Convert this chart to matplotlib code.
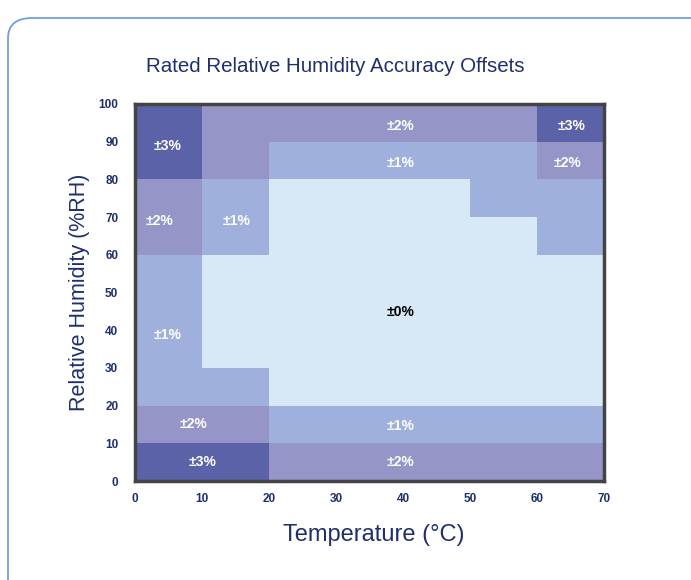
import numpy as np
import matplotlib
matplotlib.use("Agg")
import matplotlib.pyplot as plt
from matplotlib.colors import ListedColormap, BoundaryNorm
from matplotlib.patches import FancyBboxPatch

plt.rcParams['font.family'] = ['Liberation Sans', 'DejaVu Sans']

# data: accuracy offset (±%RH) per 10°C x 10%RH cell, rows from RH 0-10 upwards
temp_edges = [0, 10, 20, 30, 40, 50, 60, 70]
rh_edges = [0, 10, 20, 30, 40, 50, 60, 70, 80, 90, 100]
offsets = np.array([
    [3, 3, 2, 2, 2, 2, 2],   # 0-10
    [2, 2, 1, 1, 1, 1, 1],   # 10-20
    [1, 1, 0, 0, 0, 0, 0],   # 20-30
    [1, 0, 0, 0, 0, 0, 0],   # 30-40
    [1, 0, 0, 0, 0, 0, 0],   # 40-50
    [1, 0, 0, 0, 0, 0, 0],   # 50-60
    [2, 1, 0, 0, 0, 0, 1],   # 60-70
    [2, 1, 0, 0, 0, 1, 1],   # 70-80
    [3, 2, 1, 1, 1, 1, 2],   # 80-90
    [3, 2, 2, 2, 2, 2, 3],   # 90-100
])

# region labels (text, temperature, RH)
label_text = ['±3%', '±2%', '±3%', '±1%', '±2%', '±2%', '±1%',
              '±0%', '±1%', '±2%', '±1%', '±3%', '±2%']
label_t = [4.8, 39.6, 65.2, 39.6, 64.5, 3.7, 15.2, 39.6, 4.8, 8.8, 39.6, 10.1, 39.6]
label_rh = [88.9, 94.2, 94.2, 84.4, 84.4, 69, 69, 44.8, 38.7, 15.1, 14.6, 5, 5]

colors = ['#d7e8f6', '#9eb0db', '#9595c8', '#5b62a8']
navy = '#1f2f6e'

fig = plt.figure(figsize=(6.91, 5.80), dpi=100)
fig.patch.set_facecolor('white')
frame = FancyBboxPatch((8 / 691, -0.2), 1.2, (580 - 18) / 580 + 0.2,
                       boxstyle='round,pad=0,rounding_size=0.035',
                       transform=fig.transFigure, facecolor='white',
                       edgecolor='#6f9fe0', linewidth=1.3, zorder=-1)
fig.patches.append(frame)

ax = fig.add_axes([135 / 691, 1 - 481 / 580, 469 / 691, 377 / 580])
cmap = ListedColormap(colors)
norm = BoundaryNorm([-0.5, 0.5, 1.5, 2.5, 3.5], cmap.N)
ax.pcolormesh(temp_edges, rh_edges, offsets, cmap=cmap, norm=norm)

for txt, t, rh in zip(label_text, label_t, label_rh):
    c = 'black' if txt == '±0%' else 'white'
    ax.text(t, rh, txt, color=c, fontsize=10, fontweight='bold',
            ha='center', va='center')

ax.set_xlim(0, 70)
ax.set_ylim(0, 100)
ax.set_xticks(temp_edges)
ax.set_yticks(rh_edges)
ax.tick_params(axis='y', length=0, labelsize=8.5, labelcolor=navy, pad=12)
ax.tick_params(axis='x', length=0, labelsize=8.5, labelcolor=navy, pad=9)
for lab in ax.get_xticklabels() + ax.get_yticklabels():
    lab.set_fontweight('bold')
for sp in ax.spines.values():
    sp.set_color('#444444')
    sp.set_linewidth(2.5)

ax.set_xlabel('Temperature (°C)', fontsize=17, color=navy)
ax.xaxis.set_label_coords(0.51, -0.114)
ax.set_ylabel('Relative Humidity (%RH)', fontsize=15.5, color=navy)
ax.yaxis.set_label_coords(-0.096, 0.5)
fig.text(335 / 691, 1 - 66 / 580, 'Rated Relative Humidity Accuracy Offsets',
         fontsize=14.8, color=navy, ha='center', va='center')

fig.savefig('out.png', dpi=100)
